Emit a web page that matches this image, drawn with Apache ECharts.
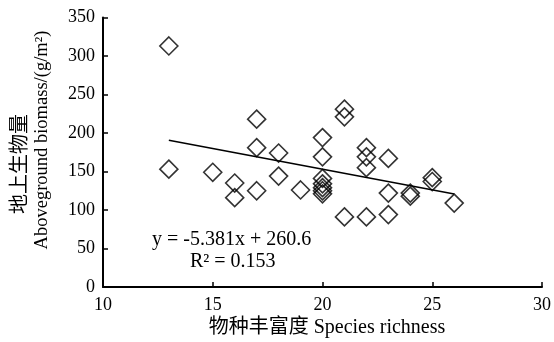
<!DOCTYPE html>
<html><head><meta charset="utf-8">
<script src="https://cdn.jsdelivr.net/npm/echarts@6/dist/echarts.min.js"></script>
<style>html,body{margin:0;padding:0;background:#fff}#c{width:554px;height:342px}</style>
</head><body><div id="c"></div>
<script>
var richness = [13,13,15,16,16,17,17,17,18,18,19,20,20,20,20,20,20,20,21,21,21,22,22,22,22,23,23,23,24,24,25,25,26];
var biomass  = [313,153,149,135,116,218,181,125,174,144,126,194,169,141,134,129,125,121,231,221,91,181,169,155,91,167,122,94,122,118,142,137,109];
var trendX = [13, 26];
var trendY = [190.6, 120.7];
var xTicks = [10, 15, 20, 25, 30];
var yTicks = [0, 50, 100, 150, 200, 250, 300, 350];
var eqText = 'y = -5.381x + 260.6';
var r2Text = 'R² = 0.153';

var serif = '"Liberation Serif","Times New Roman","Noto Sans CJK SC",serif';
var pts = richness.map(function(x,i){return [x, biomass[i]];});
var trend = trendX.map(function(x,i){return [x, trendY[i]];});

var chart = echarts.init(document.getElementById('c'), null, {renderer:'canvas'});
chart.setOption({
  animation:false,
  grid:{left:103,right:11,top:17.5,bottom:55},
  xAxis:{type:'value',min:xTicks[0],max:xTicks[xTicks.length-1],interval:5,
    axisLine:{lineStyle:{color:'#000',width:2}},
    axisTick:{show:true,inside:true,length:5,lineStyle:{color:'#000',width:1.5}},
    axisLabel:{color:'#000',fontFamily:serif,fontSize:18,margin:9},
    splitLine:{show:false}},
  yAxis:{type:'value',min:yTicks[0],max:yTicks[yTicks.length-1],interval:50,
    axisLine:{show:true,lineStyle:{color:'#000',width:2}},
    axisTick:{show:true,inside:true,length:5,lineStyle:{color:'#000',width:1.5}},
    axisLabel:{color:'#000',fontFamily:serif,fontSize:18,margin:8},
    splitLine:{show:false}},
  graphic:[
    {type:'text',x:327,y:328,style:{text:'物种丰富度 Species richness',align:'center',verticalAlign:'middle',font:'20px '+serif,fill:'#000'}},
    {type:'text',x:21,y:164,rotation:Math.PI/2,style:{text:'地上生物量',align:'center',verticalAlign:'middle',font:'20px '+serif,fill:'#000'}},
    {type:'text',x:42,y:140,rotation:Math.PI/2,style:{text:'Aboveground biomass/(g/m²)',align:'center',verticalAlign:'middle',font:'18.5px '+serif,fill:'#000'}},
    {type:'text',x:152,y:240,style:{text:eqText,align:'left',verticalAlign:'middle',font:'20px '+serif,fill:'#000'}},
    {type:'text',x:190,y:262,style:{text:r2Text,align:'left',verticalAlign:'middle',font:'20px '+serif,fill:'#000'}}
  ],
  series:[
    {type:'scatter',data:pts,symbol:'diamond',symbolSize:18,
      itemStyle:{color:'rgba(0,0,0,0)',borderColor:'#000',borderWidth:1.6},z:3},
    {type:'line',data:trend,symbol:'none',lineStyle:{color:'#000',width:1.6},z:2}
  ]
});
</script></body></html>
